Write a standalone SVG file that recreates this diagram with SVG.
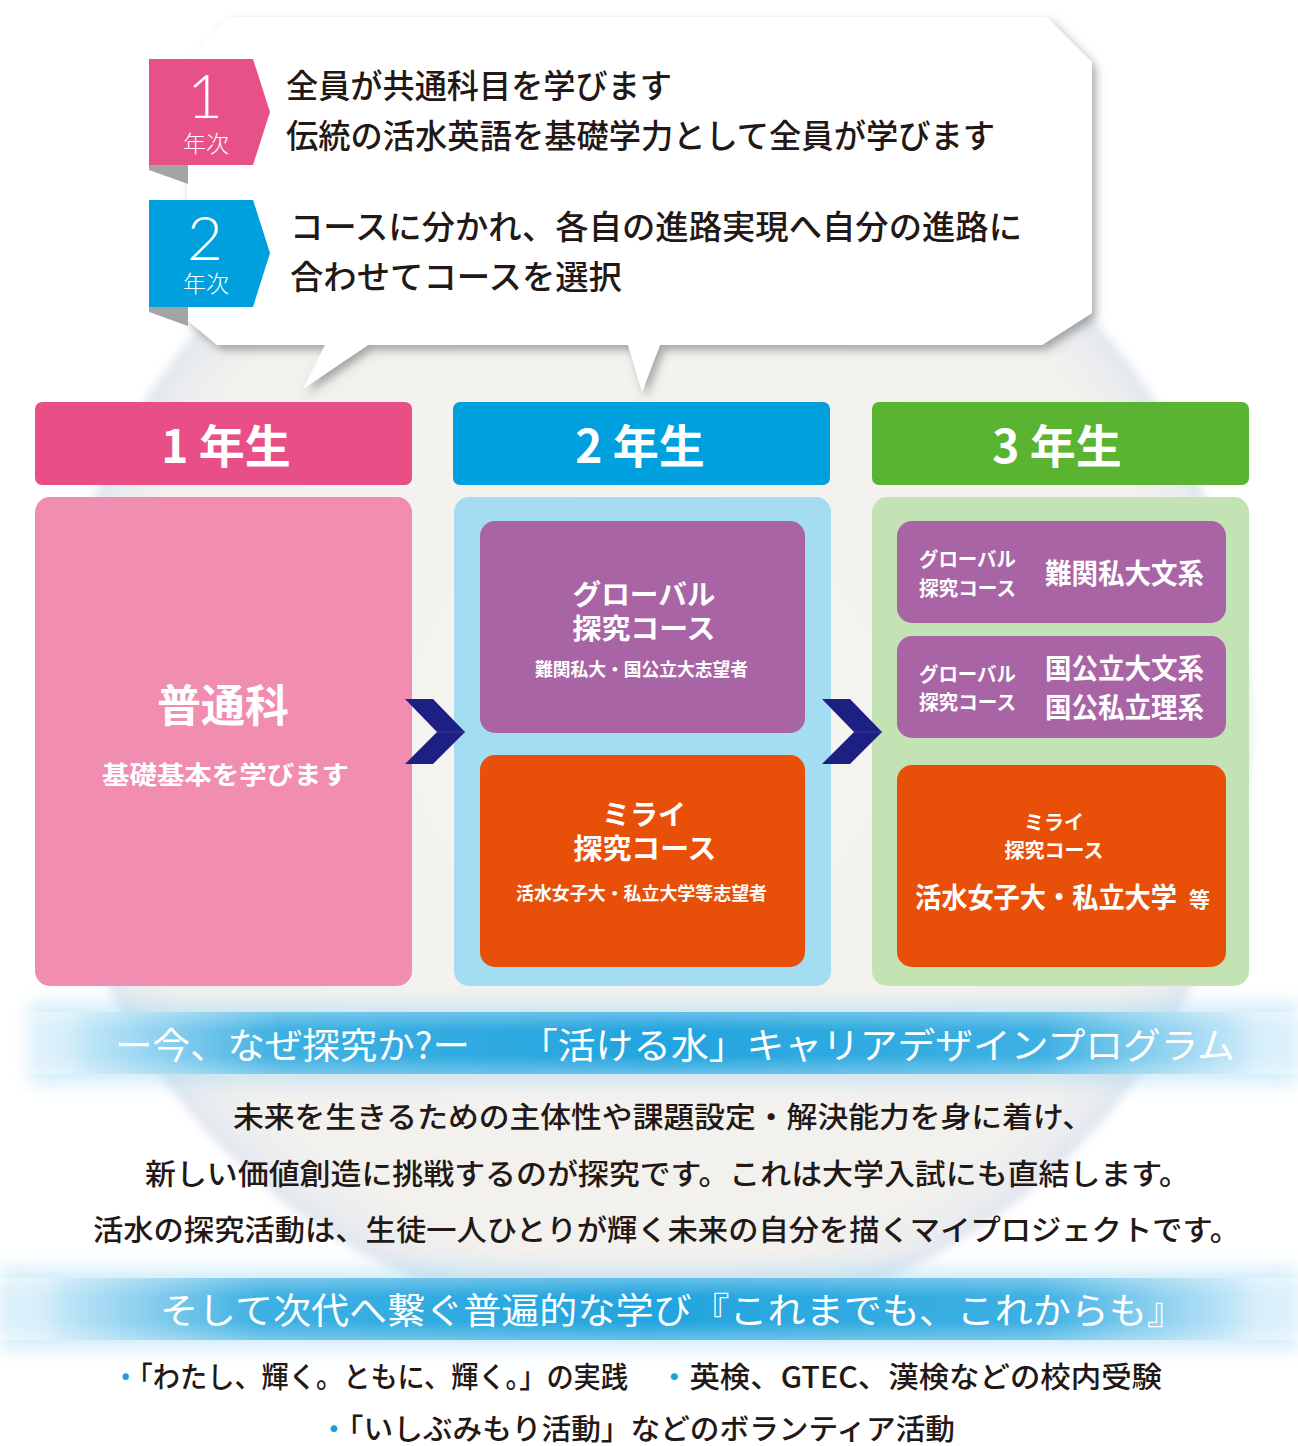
<svg xmlns="http://www.w3.org/2000/svg" width="1298" height="1446" viewBox="0 0 1298 1446">
  <defs>
    <radialGradient id="bgGrad" cx="0.5" cy="0.5" r="0.5">
      <stop offset="0" stop-color="#f5f4f0"/>
      <stop offset="0.9" stop-color="#f2f1ed"/>
      <stop offset="0.965" stop-color="#eaecf0"/>
      <stop offset="1" stop-color="#dfe5ef"/>
    </radialGradient>
    <filter id="soft" x="-10%" y="-10%" width="120%" height="120%">
      <feGaussianBlur stdDeviation="5"/>
    </filter>
    <filter id="bubbleShadow" x="-10%" y="-10%" width="125%" height="130%">
      <feDropShadow dx="4" dy="5" stdDeviation="5" flood-color="#555" flood-opacity="0.5"/>
    </filter>
    <filter id="bandGlow" x="-5%" y="-60%" width="110%" height="220%">
      <feGaussianBlur stdDeviation="9"/>
    </filter>
    <linearGradient id="bandH" x1="0" y1="0" x2="1" y2="0">
      <stop offset="0" stop-color="#ffffff" stop-opacity="0"/>
      <stop offset="0.05" stop-color="#bfe5f7"/>
      <stop offset="0.2" stop-color="#3eb0e3"/>
      <stop offset="0.5" stop-color="#22a4de"/>
      <stop offset="0.8" stop-color="#3eb0e3"/>
      <stop offset="0.95" stop-color="#bfe5f7"/>
      <stop offset="1" stop-color="#ffffff" stop-opacity="0"/>
    </linearGradient>
    <linearGradient id="bandV" x1="0" y1="0" x2="0" y2="1">
      <stop offset="0" stop-color="#ffffff" stop-opacity="0.3"/>
      <stop offset="0.3" stop-color="#ffffff" stop-opacity="0"/>
      <stop offset="0.7" stop-color="#ffffff" stop-opacity="0"/>
      <stop offset="1" stop-color="#ffffff" stop-opacity="0.3"/>
    </linearGradient>
    <style>
      .jp { font-family: "Noto Sans CJK JP", "Noto Sans", sans-serif; }
      .dark { fill: #231815; }
      .bub { font-size: 33px; font-weight: 500; }
      .body { font-size: 29px; font-weight: 500; }
      .wb { fill: #ffffff; font-weight: 700; }
      .hdr { font-size: 46px; font-weight: 700; fill: #ffffff; }
      .band { font-size: 36px; font-weight: 400; fill: #ffffff; }
      .num { font-family: "Lato", "Open Sans", sans-serif; font-weight: 300; font-size: 62px; fill: #ffffff; }
      .nen { font-size: 23px; font-weight: 300; fill: #ffffff; }
      .fold { fill: #a3a4a4; }
      .chev { fill: #1e1f82; }
      .dot { fill: #1aa0dc; }
    </style>
  </defs>

  <rect width="1298" height="1446" fill="#ffffff"/>

  <!-- background disc -->
  <g id="background">
    <circle cx="650" cy="726" r="601" fill="url(#bgGrad)" filter="url(#soft)"/>
  </g>

  <!-- speech bubble -->
  <g id="bubble">
    <path d="M230,17 L1047,17 L1092,62 L1092,313 L1042,345 L660,345 L642,392 L628,345 L368,345 L303,389 L325,345 L217,345 L187,320 L187,57 Z" fill="#ffffff" filter="url(#bubbleShadow)"/>
  </g>

  <g id="badge1">
    <polygon class="fold" points="149,165 188,165 188,184 149,170"/>
    <polygon points="149,59 253,59 270,112 253,165 149,165" fill="#e85088"/>
    <text class="num" x="205" y="118" text-anchor="middle">1</text>
    <text class="jp nen" x="206" y="142" text-anchor="middle" dominant-baseline="central">年次</text>
  </g>
  <g id="text1">
    <text class="jp dark bub" x="286" y="84" dominant-baseline="central" textLength="386" lengthAdjust="spacingAndGlyphs">全員が共通科目を学びます</text>
    <text class="jp dark bub" x="286" y="134" dominant-baseline="central" textLength="709" lengthAdjust="spacingAndGlyphs">伝統の活水英語を基礎学力として全員が学びます</text>
  </g>

  <g id="badge2">
    <polygon class="fold" points="149,307 188,307 188,326 149,312"/>
    <polygon points="149,200 253,200 270,253 253,307 149,307" fill="#00a0de"/>
    <text class="num" x="205" y="260" text-anchor="middle">2</text>
    <text class="jp nen" x="206" y="282" text-anchor="middle" dominant-baseline="central">年次</text>
  </g>
  <g id="text2">
    <text class="jp dark bub" x="290" y="225" dominant-baseline="central" textLength="732" lengthAdjust="spacingAndGlyphs">コースに分かれ、各自の進路実現へ自分の進路に</text>
    <text class="jp dark bub" x="290" y="275" dominant-baseline="central" textLength="332" lengthAdjust="spacingAndGlyphs">合わせてコースを選択</text>
  </g>

  <!-- column 1 -->
  <g id="year1-header">
    <rect x="35" y="402" width="377" height="83" rx="7" fill="#e84f86"/>
    <text class="jp hdr" x="226" y="443" text-anchor="middle" dominant-baseline="central">1 年生</text>
  </g>
  <g id="year1-body">
    <rect x="35" y="497" width="377" height="489" rx="15" fill="#f08db0"/>
    <text class="jp wb" x="223" y="703" font-size="44" font-weight="900" text-anchor="middle" dominant-baseline="central">普通科</text>
    <text class="jp wb" x="102" y="773" font-size="25" dominant-baseline="central" textLength="247" lengthAdjust="spacingAndGlyphs">基礎基本を学びます</text>
  </g>

  <!-- column 2 -->
  <g id="year2-header">
    <rect x="453" y="402" width="377" height="83" rx="7" fill="#009fdd"/>
    <text class="jp hdr" x="640" y="443" text-anchor="middle" dominant-baseline="central">2 年生</text>
  </g>
  <g id="year2-body">
    <rect x="454" y="497" width="377" height="489" rx="15" fill="#a4dcf2"/>
  </g>
  <g id="y2-global">
    <rect x="480" y="521" width="325" height="212" rx="15" fill="#a964a5"/>
    <text class="jp wb" x="644" y="593" font-size="28" text-anchor="middle" dominant-baseline="central" textLength="143" lengthAdjust="spacingAndGlyphs">グローバル</text>
    <text class="jp wb" x="644" y="627" font-size="28" text-anchor="middle" dominant-baseline="central" textLength="143" lengthAdjust="spacingAndGlyphs">探究コース</text>
    <text class="jp wb" x="535" y="668" font-size="18" dominant-baseline="central" textLength="213" lengthAdjust="spacingAndGlyphs">難関私大・国公立大志望者</text>
  </g>
  <g id="y2-mirai">
    <rect x="480" y="755" width="325" height="212" rx="15" fill="#e85009"/>
    <text class="jp wb" x="644" y="813" font-size="28" text-anchor="middle" dominant-baseline="central">ミライ</text>
    <text class="jp wb" x="645" y="847" font-size="28" text-anchor="middle" dominant-baseline="central" textLength="143" lengthAdjust="spacingAndGlyphs">探究コース</text>
    <text class="jp wb" x="516" y="892" font-size="18" dominant-baseline="central" textLength="251" lengthAdjust="spacingAndGlyphs">活水女子大・私立大学等志望者</text>
  </g>

  <!-- column 3 -->
  <g id="year3-header">
    <rect x="872" y="402" width="377" height="83" rx="7" fill="#5ab431"/>
    <text class="jp hdr" x="1057" y="443" text-anchor="middle" dominant-baseline="central">3 年生</text>
  </g>
  <g id="year3-body">
    <rect x="872" y="497" width="377" height="489" rx="15" fill="#c4e3b5"/>
  </g>
  <g id="y3-global-1">
    <rect x="897" y="521" width="329" height="102" rx="15" fill="#a964a5"/>
    <text class="jp wb" x="919" y="558" font-size="20" dominant-baseline="central" textLength="97" lengthAdjust="spacingAndGlyphs">グローバル</text>
    <text class="jp wb" x="919" y="587" font-size="20" dominant-baseline="central" textLength="97" lengthAdjust="spacingAndGlyphs">探究コース</text>
    <text class="jp wb" x="1045" y="572" font-size="28" dominant-baseline="central" textLength="159" lengthAdjust="spacingAndGlyphs">難関私大文系</text>
  </g>
  <g id="y3-global-2">
    <rect x="897" y="636" width="329" height="102" rx="15" fill="#a964a5"/>
    <text class="jp wb" x="919" y="673" font-size="20" dominant-baseline="central" textLength="97" lengthAdjust="spacingAndGlyphs">グローバル</text>
    <text class="jp wb" x="919" y="701" font-size="20" dominant-baseline="central" textLength="97" lengthAdjust="spacingAndGlyphs">探究コース</text>
    <text class="jp wb" x="1045" y="667" font-size="28" dominant-baseline="central" textLength="159" lengthAdjust="spacingAndGlyphs">国公立大文系</text>
    <text class="jp wb" x="1045" y="706" font-size="28" dominant-baseline="central" textLength="159" lengthAdjust="spacingAndGlyphs">国公私立理系</text>
  </g>
  <g id="y3-mirai">
    <rect x="897" y="765" width="329" height="202" rx="15" fill="#e85009"/>
    <text class="jp wb" x="1054" y="821" font-size="20" text-anchor="middle" dominant-baseline="central">ミライ</text>
    <text class="jp wb" x="1054" y="849" font-size="20" text-anchor="middle" dominant-baseline="central">探究コース</text>
    <text class="jp wb" x="915" y="896" font-size="28" dominant-baseline="central" textLength="262" lengthAdjust="spacingAndGlyphs">活水女子大・私立大学</text>
    <text class="jp wb" x="1189" y="898" font-size="21" dominant-baseline="central">等</text>
  </g>

  <!-- connectors -->
  <g id="connectors">
    <polygon class="chev" points="405,699 433,699 465,732 433,764 405,764 437,732"/>
    <line x1="437" y1="732" x2="465" y2="732" stroke="#3a3c98" stroke-width="1"/>
    <polygon class="chev" points="822,699 850,699 882,732 850,764 822,764 854,732"/>
    <line x1="854" y1="732" x2="882" y2="732" stroke="#3a3c98" stroke-width="1"/>
  </g>

  <!-- band 1 -->
  <g id="band1">
    <rect x="30" y="1002" width="1268" height="82" fill="#9fd8f3" opacity="0.45" filter="url(#bandGlow)"/>
    <rect x="25" y="1012" width="1273" height="62" fill="url(#bandH)"/>
    <rect x="25" y="1012" width="1273" height="62" fill="url(#bandV)"/>
    <text class="jp band" x="115" y="1043" dominant-baseline="central" textLength="355" lengthAdjust="spacingAndGlyphs">ー今、なぜ探究か?ー</text>
    <text class="jp band" x="520" y="1043" dominant-baseline="central" textLength="715" lengthAdjust="spacingAndGlyphs">「活ける水」キャリアデザインプログラム</text>
  </g>

  <g id="body-text">
    <text class="jp dark body" x="233" y="1115" dominant-baseline="central" textLength="860" lengthAdjust="spacingAndGlyphs">未来を生きるための主体性や課題設定・解決能力を身に着け、</text>
    <text class="jp dark body" x="145" y="1172" dominant-baseline="central" textLength="1045" lengthAdjust="spacingAndGlyphs">新しい価値創造に挑戦するのが探究です。これは大学入試にも直結します。</text>
    <text class="jp dark body" x="93" y="1228" dominant-baseline="central" textLength="1147" lengthAdjust="spacingAndGlyphs">活水の探究活動は、生徒一人ひとりが輝く未来の自分を描くマイプロジェクトです。</text>
  </g>

  <!-- band 2 -->
  <g id="band2">
    <rect x="0" y="1268" width="1298" height="82" fill="#9fd8f3" opacity="0.45" filter="url(#bandGlow)"/>
    <rect x="0" y="1278" width="1298" height="62" fill="url(#bandH)"/>
    <rect x="0" y="1278" width="1298" height="62" fill="url(#bandV)"/>
    <text class="jp band" x="160" y="1308" dominant-baseline="central" textLength="1025" lengthAdjust="spacingAndGlyphs">そして次代へ繋ぐ普遍的な学び『これまでも、これからも』</text>
  </g>

  <g id="bullets">
    <text class="jp dark body" x="112" y="1375" dominant-baseline="central" textLength="516" lengthAdjust="spacingAndGlyphs"><tspan class="dot">・</tspan>「わたし、輝く。ともに、輝く。」の実践</text>
    <text class="jp dark body" x="659" y="1375" dominant-baseline="central" textLength="503" lengthAdjust="spacingAndGlyphs"><tspan class="dot">・</tspan>英検、GTEC、漢検などの校内受験</text>
    <text class="jp dark body" x="319" y="1427" font-size="28" dominant-baseline="central" textLength="636" lengthAdjust="spacingAndGlyphs"><tspan class="dot">・</tspan>「いしぶみもり活動」などのボランティア活動</text>
  </g>
</svg>
